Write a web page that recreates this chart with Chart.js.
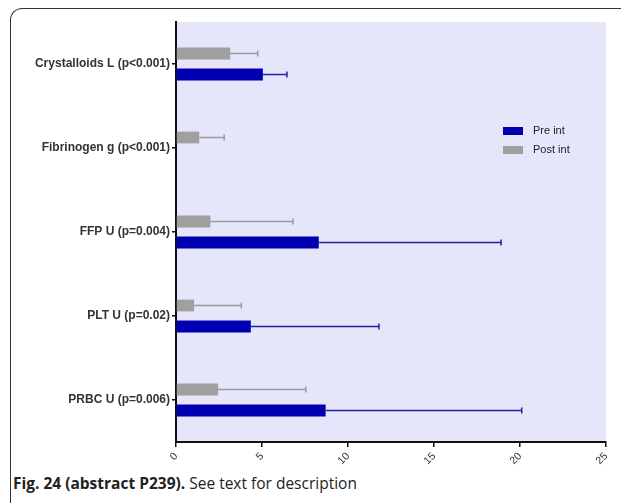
<!DOCTYPE html>
<html>
<head>
<meta charset="utf-8">
<script src="https://cdn.jsdelivr.net/npm/chart.js@4.4.1/dist/chart.umd.min.js"></script>
<style>
    body { margin: 0; background: #fff; width: 621px; height: 503px; overflow: hidden; position: relative; }
    .frame {
        position: absolute; left: 10px; top: 8px; width: 640px; height: 520px;
        border-left: 1.5px solid #333; border-top: 1.5px solid #333;
        border-top-left-radius: 12px;
    }
    .chart-box { position: absolute; left: 0; top: 0; width: 621px; height: 472px; }
    .caption {
        position: absolute; left: 13px; top: 472px;
        font-family: 'Open Sans', sans-serif; font-size: 15.5px; color: #222;
    }
    .caption b { font-weight: 700; }
</style>
</head>
<body>
<div class="frame"></div>
<div class="chart-box"><canvas id="barChart" width="621" height="472"></canvas></div>
<div class="caption"><b>Fig. 24 (abstract P239).</b> See text for description</div>
<script>
// Data
const categories = ['Crystalloids L (p<0.001)', 'Fibrinogen g (p<0.001)', 'FFP U (p=0.004)', 'PLT U (p=0.02)', 'PRBC U (p=0.006)'];
const preInt = [5.05, 0, 8.3, 4.35, 8.7];
const preIntErr = [6.45, 0, 18.9, 11.8, 20.1];
const postInt = [3.15, 1.35, 2.0, 1.05, 2.45];
const postIntErr = [4.75, 2.8, 6.8, 3.8, 7.55];
const xTicks = [0, 5, 10, 15, 20, 25];

const preColor = '#0000b0';
const postColor = '#a0a0a0';

// plot area background
const plotBg = {
    id: 'plotBg',
    beforeDraw(chart) {
        const { ctx, chartArea: a } = chart;
        ctx.save();
        ctx.fillStyle = '#e6e6fa';
        ctx.fillRect(a.left, a.top, a.right - a.left, a.bottom - a.top);
        ctx.restore();
    }
};

// error bars (end value) drawn from the bar tip
const errorBars = {
    id: 'errorBars',
    afterDatasetsDraw(chart) {
        const ctx = chart.ctx;
        const xScale = chart.scales.x;
        chart.data.datasets.forEach((ds, di) => {
            const meta = chart.getDatasetMeta(di);
            meta.data.forEach((bar, i) => {
                if (!ds.data[i]) return;
                const xEnd = xScale.getPixelForValue(ds.errors[i]);
                ctx.save();
                ctx.strokeStyle = ds.errorColor;
                ctx.lineWidth = 1.5;
                ctx.beginPath();
                ctx.moveTo(bar.x, bar.y);
                ctx.lineTo(xEnd, bar.y);
                ctx.moveTo(xEnd, bar.y - 3);
                ctx.lineTo(xEnd, bar.y + 3);
                ctx.stroke();
                ctx.restore();
            });
        });
    }
};

// legend drawn inside the plot area
const innerLegend = {
    id: 'innerLegend',
    afterDraw(chart) {
        const ctx = chart.ctx;
        const a = chart.chartArea;
        const items = [
            { label: 'Pre int', color: preColor },
            { label: 'Post int', color: postColor }
        ];
        ctx.save();
        ctx.font = '11px "Liberation Sans", Arial, sans-serif';
        ctx.textBaseline = 'middle';
        items.forEach((it, i) => {
            const y = a.top + 109 + i * 19;
            ctx.fillStyle = it.color;
            ctx.fillRect(a.right - 103, y - 4, 20, 8);
            ctx.fillStyle = '#222';
            ctx.fillText(it.label, a.right - 73, y);
        });
        ctx.restore();
    }
};

const ctx = document.getElementById('barChart');
new Chart(ctx, {
    type: 'bar',
    data: {
        labels: categories,
        datasets: [
            {
                label: 'Post int',
                data: postInt,
                errors: postIntErr,
                errorColor: '#9a9a9a',
                backgroundColor: postColor,
                categoryPercentage: 0.5,
                barPercentage: 0.56
            },
            {
                label: 'Pre int',
                data: preInt,
                errors: preIntErr,
                errorColor: '#2020a0',
                backgroundColor: preColor,
                categoryPercentage: 0.5,
                barPercentage: 0.56
            }
        ]
    },
    options: {
        indexAxis: 'y',
        responsive: false,
        animation: false,
        layout: { padding: { left: 0, right: 15, top: 22, bottom: 0 } },
        plugins: {
            legend: { display: false },
            tooltip: { enabled: false }
        },
        scales: {
            x: {
                min: 0,
                max: 25,
                afterBuildTicks(scale) {
                    scale.ticks = xTicks.map(v => ({ value: v }));
                },
                afterFit(scale) { scale.height = 30; },
                border: { color: '#111', width: 2 },
                grid: { drawOnChartArea: false, drawTicks: true, tickLength: 5, color: '#111', lineWidth: 1.5 },
                ticks: {
                    minRotation: 45,
                    maxRotation: 45,
                    color: '#333',
                    padding: 3,
                    font: { family: '"Liberation Sans", Arial, sans-serif', size: 10.5 }
                }
            },
            y: {
                afterFit(scale) { scale.width = 176; },
                border: { color: '#111', width: 2 },
                grid: { offset: false, drawOnChartArea: false, drawTicks: true, tickLength: 4, color: '#111', lineWidth: 1.5 },
                ticks: {
                    color: '#333',
                    padding: 2,
                    font: { family: '"Liberation Sans", Arial, sans-serif', size: 12, weight: 'bold' }
                }
            }
        }
    },
    plugins: [plotBg, errorBars, innerLegend]
});
</script>
</body>
</html>
